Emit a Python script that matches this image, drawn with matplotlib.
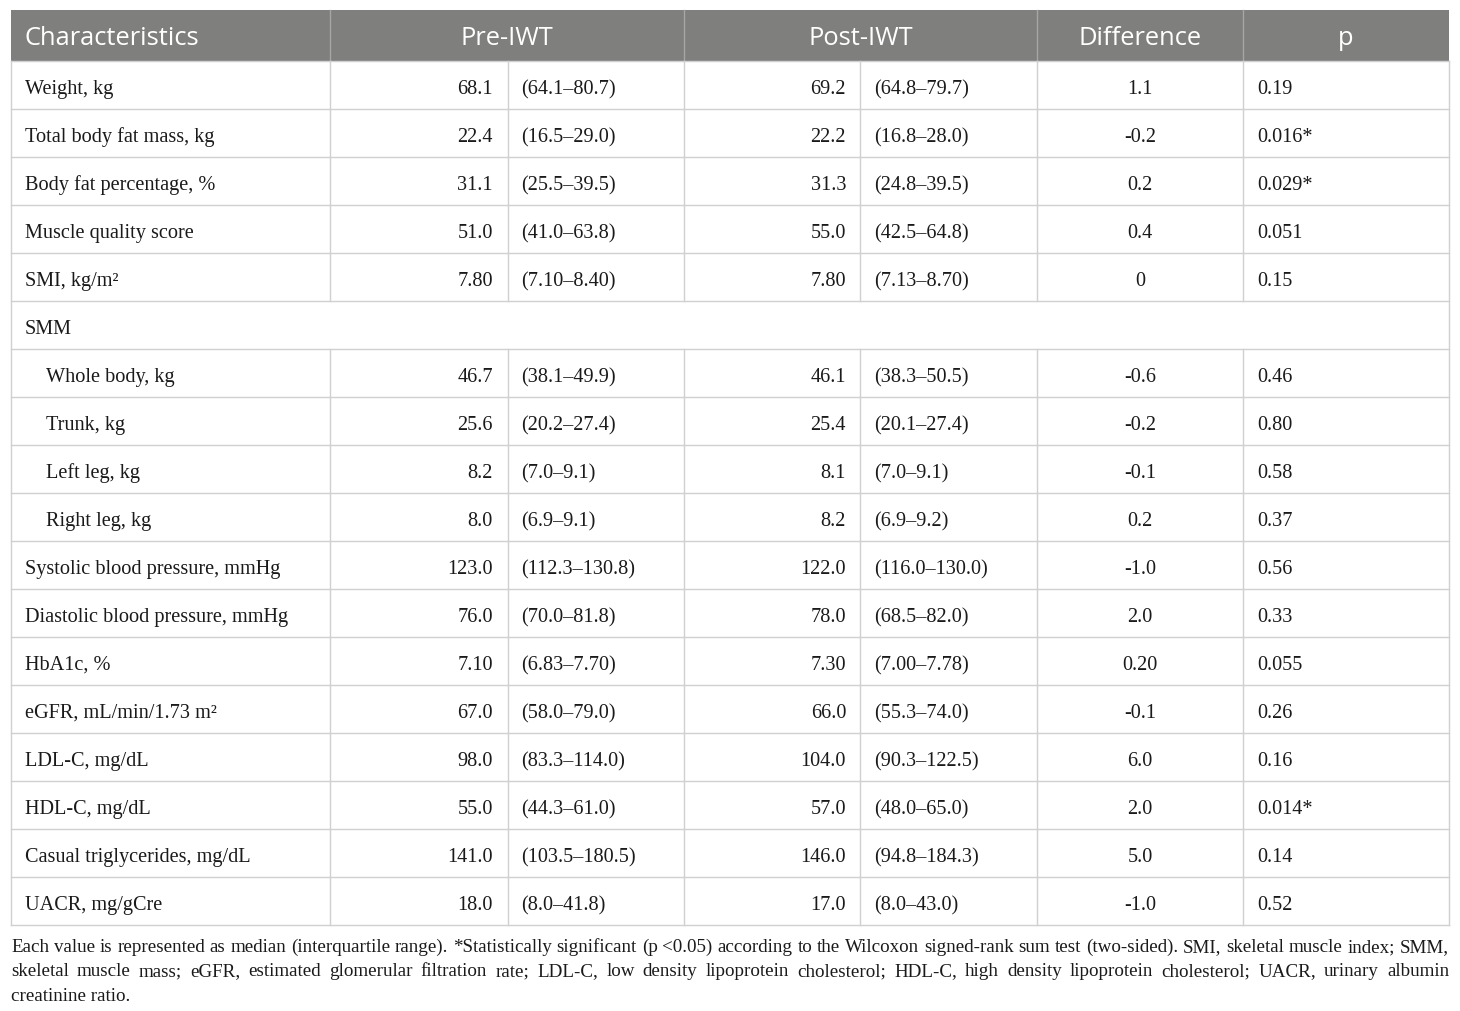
import matplotlib
import matplotlib.pyplot as plt
from matplotlib.patches import Rectangle

matplotlib.use('Agg')

# ============================
# Table data
# ============================
characteristics = [
    "Weight, kg", "Total body fat mass, kg", "Body fat percentage, %",
    "Muscle quality score", "SMI, kg/m\u00b2", "SMM",
    "Whole body, kg", "Trunk, kg", "Left leg, kg", "Right leg, kg",
    "Systolic blood pressure, mmHg", "Diastolic blood pressure, mmHg",
    "HbA1c, %", "eGFR, mL/min/1.73 m\u00b2", "LDL-C, mg/dL", "HDL-C, mg/dL",
    "Casual triglycerides, mg/dL", "UACR, mg/gCre",
]
indented = [False] * 6 + [True] * 4 + [False] * 8
pre_median = ["68.1", "22.4", "31.1", "51.0", "7.80", None, "46.7", "25.6", "8.2", "8.0",
              "123.0", "76.0", "7.10", "67.0", "98.0", "55.0", "141.0", "18.0"]
pre_iqr = ["(64.1\u201380.7)", "(16.5\u201329.0)", "(25.5\u201339.5)", "(41.0\u201363.8)",
           "(7.10\u20138.40)", None, "(38.1\u201349.9)", "(20.2\u201327.4)", "(7.0\u20139.1)",
           "(6.9\u20139.1)", "(112.3\u2013130.8)", "(70.0\u201381.8)", "(6.83\u20137.70)",
           "(58.0\u201379.0)", "(83.3\u2013114.0)", "(44.3\u201361.0)", "(103.5\u2013180.5)",
           "(8.0\u201341.8)"]
post_median = ["69.2", "22.2", "31.3", "55.0", "7.80", None, "46.1", "25.4", "8.1", "8.2",
               "122.0", "78.0", "7.30", "66.0", "104.0", "57.0", "146.0", "17.0"]
post_iqr = ["(64.8\u201379.7)", "(16.8\u201328.0)", "(24.8\u201339.5)", "(42.5\u201364.8)",
            "(7.13\u20138.70)", None, "(38.3\u201350.5)", "(20.1\u201327.4)", "(7.0\u20139.1)",
            "(6.9\u20139.2)", "(116.0\u2013130.0)", "(68.5\u201382.0)", "(7.00\u20137.78)",
            "(55.3\u201374.0)", "(90.3\u2013122.5)", "(48.0\u201365.0)", "(94.8\u2013184.3)",
            "(8.0\u201343.0)"]
difference = ["1.1", "-0.2", "0.2", "0.4", "0", None, "-0.6", "-0.2", "-0.1", "0.2",
              "-1.0", "2.0", "0.20", "-0.1", "6.0", "2.0", "5.0", "-1.0"]
p_values = ["0.19", "0.016*", "0.029*", "0.051", "0.15", None, "0.46", "0.80", "0.58", "0.37",
            "0.56", "0.33", "0.055", "0.26", "0.16", "0.014*", "0.14", "0.52"]
headers = ["Characteristics", "Pre-IWT", "Post-IWT", "Difference", "p"]
footnote_lines = [
    "Each value is represented as median (interquartile range). *Statistically significant "
    "(p <0.05) according to the Wilcoxon signed-rank sum test (two-sided). SMI, skeletal "
    "muscle index; SMM,",
    "skeletal muscle mass; eGFR, estimated glomerular filtration rate; LDL-C, low density "
    "lipoprotein cholesterol; HDL-C, high density lipoprotein cholesterol; UACR, urinary albumin",
    "creatinine ratio.",
]

# ============================
# Layout (pixels)
# ============================
W, H = 1460, 1012
left, right = 11, 1449
top, head_bot = 11, 62
row_h = 48
col_edges = [left, 330, 508, 684, 860, 1037, 1243, right]
grid_col = '#d0d0d0'
text_col = '#1a1a1a'
serif = ['Liberation Serif', 'DejaVu Serif']
body_size = 14.6
head_size = 18.4
foot_size = 13.7

fig = plt.figure(figsize=(W / 100, H / 100), dpi=100)
ax = fig.add_axes([0, 0, 1, 1])
ax.set_xlim(0, W)
ax.set_ylim(H, 0)
ax.axis('off')

# header band
ax.add_patch(Rectangle((left, top), right - left, head_bot - top, facecolor='#7f807e',
                       edgecolor='none'))
for x in [330, 684, 1037, 1243]:
    ax.plot([x, x], [top, head_bot], color='#a6a6a6', lw=1)
head_x = [25, (330 + 684) / 2, (684 + 1037) / 2, (1037 + 1243) / 2, (1243 + right) / 2]
head_ha = ['left', 'center', 'center', 'center', 'center']
for txt, x, ha in zip(headers, head_x, head_ha):
    ax.text(x, 45, txt, color='white', fontsize=head_size, family='Open Sans',
            ha=ha, va='baseline')

# body rows
n = len(characteristics)
bottom = head_bot + n * row_h
for i in range(n + 1):
    y = head_bot + i * row_h
    ax.plot([left, right], [y, y], color=grid_col, lw=1)
ax.plot([left, left], [head_bot, bottom], color=grid_col, lw=1)
ax.plot([right, right], [head_bot, bottom], color=grid_col, lw=1)

for i in range(n):
    y0 = head_bot + i * row_h
    yb = y0 + row_h / 2 + 8
    x_lab = 46 if indented[i] else 25
    ax.text(x_lab, yb, characteristics[i], fontsize=body_size, family=serif,
            color=text_col, ha='left', va='baseline')
    if pre_median[i] is None:
        continue
    for x in col_edges[1:-1]:
        ax.plot([x, x], [y0, y0 + row_h], color=grid_col, lw=1)
    ax.text(493, yb, pre_median[i], fontsize=body_size, family=serif, color=text_col,
            ha='right', va='baseline')
    ax.text(521, yb, pre_iqr[i], fontsize=body_size, family=serif, color=text_col,
            ha='left', va='baseline')
    ax.text(846, yb, post_median[i], fontsize=body_size, family=serif, color=text_col,
            ha='right', va='baseline')
    ax.text(874, yb, post_iqr[i], fontsize=body_size, family=serif, color=text_col,
            ha='left', va='baseline')
    ax.text(1140, yb, difference[i], fontsize=body_size, family=serif, color=text_col,
            ha='center', va='baseline')
    ax.text(1257, yb, p_values[i], fontsize=body_size, family=serif, color=text_col,
            ha='left', va='baseline')

# footnote, justified like the journal layout
fig.canvas.draw()
renderer = fig.canvas.get_renderer()
for k, line in enumerate(footnote_lines):
    yb = 952 + k * 24.5
    if k == len(footnote_lines) - 1:
        ax.text(left, yb, line, fontsize=foot_size, family=serif, color=text_col,
                ha='left', va='baseline')
        continue
    words = line.split(' ')
    items = [ax.text(0, yb, w, fontsize=foot_size, family=serif, color=text_col,
                     ha='left', va='baseline') for w in words]
    widths = [t.get_window_extent(renderer).width for t in items]
    gap = (right - left - sum(widths)) / (len(words) - 1)
    x = left
    for t, w in zip(items, widths):
        t.set_x(x)
        x += w + gap

fig.savefig('out.png', dpi=100)
